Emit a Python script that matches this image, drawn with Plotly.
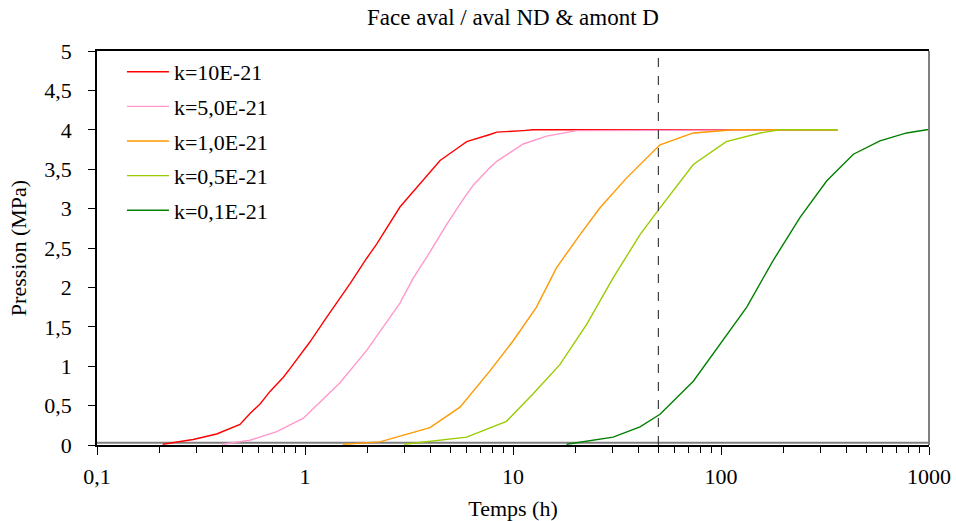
import plotly.graph_objects as go

# ---- data (time in h, pressure in MPa) ----
k10_t = [0.207, 0.29, 0.376, 0.487, 0.544, 0.608, 0.679, 0.787, 0.847, 0.982, 1.057, 1.27, 1.473, 1.65,
         1.98, 2.21, 2.86, 2.97, 3.99, 4.46, 5.36, 5.99, 7.75, 8.35, 11.2, 12.5, 363]
k10_p = [0.01, 0.07, 0.14, 0.26, 0.40, 0.52, 0.68, 0.86, 0.97, 1.20, 1.31, 1.62, 1.86, 2.05,
         2.37, 2.55, 3.02, 3.07, 3.46, 3.61, 3.76, 3.85, 3.94, 3.97, 3.99, 4.0, 4.0]

k5_t = [0.40, 0.544, 0.731, 0.982, 1.473, 1.98, 2.86, 3.32, 3.99, 4.80, 5.77, 6.45, 7.75, 8.35, 11.2,
        14.5, 20.2, 363]
k5_p = [0.01, 0.06, 0.17, 0.34, 0.79, 1.20, 1.80, 2.12, 2.45, 2.80, 3.12, 3.30, 3.52, 3.60, 3.82,
        3.92, 3.99, 4.0]

k1_t = [1.52, 2.29, 3.99, 5.56, 7.75, 10.0, 12.97, 16.2, 21.0, 26.2, 35.2, 50.9, 73.6, 98.9, 115, 363]
k1_p = [0.01, 0.04, 0.22, 0.48, 0.94, 1.32, 1.75, 2.25, 2.67, 3.01, 3.39, 3.81, 3.96, 3.99, 4.0, 4.0]

k05_t = [3.0, 5.99, 9.3, 12.5, 16.8, 22.6, 30.3, 40.8, 50.9, 73.6, 106, 154, 192, 363]
k05_p = [0.01, 0.10, 0.30, 0.65, 1.02, 1.53, 2.12, 2.67, 3.01, 3.56, 3.85, 3.96, 4.0, 4.0]

k01_t = [18.1, 30.3, 40.8, 50.9, 73.6, 98.9, 133, 178, 240, 322, 433, 581, 781, 975, 1000]
k01_p = [0.01, 0.10, 0.23, 0.39, 0.81, 1.28, 1.75, 2.34, 2.89, 3.35, 3.69, 3.86, 3.96, 4.0, 4.0]

series_names = ["k=10E-21", "k=5,0E-21", "k=1,0E-21", "k=0,5E-21", "k=0,1E-21"]
series_colors = ["#FF0000", "#FF99CC", "#FF9900", "#99CC00", "#008000"]

baseline_t = [0.1, 1000]
baseline_p = [0.03, 0.03]
marker_t = [50, 50]
marker_p = [0, 5]

x_tickvals = [0.1, 1, 10, 100, 1000]
x_ticktext = ["0,1", "1", "10", "100", "1000"]
x_minorvals = [m * d for d in (0.1, 1, 10, 100) for m in range(2, 10)]
y_tickvals = [0, 0.5, 1, 1.5, 2, 2.5, 3, 3.5, 4, 4.5, 5]
y_ticktext = ["0", "0,5", "1", "1,5", "2", "2,5", "3", "3,5", "4", "4,5", "5"]

FONT = "Liberation Serif"

fig = go.Figure()

fig.add_trace(go.Scatter(x=baseline_t, y=baseline_p, mode="lines",
                         line=dict(color="#808080", width=2), showlegend=False,
                         hoverinfo="skip"))

for t, p, n, c in zip([k10_t, k5_t, k1_t, k05_t, k01_t],
                      [k10_p, k5_p, k1_p, k05_p, k01_p],
                      series_names, series_colors):
    fig.add_trace(go.Scatter(x=t, y=p, mode="lines", name=n, legendgroup=n,
                             line=dict(color=c, width=1.4)))

fig.add_trace(go.Scatter(x=marker_t, y=marker_p, mode="lines",
                         line=dict(color="#404040", width=1.2, dash="dash"),
                         showlegend=False, hoverinfo="skip"))

fig.update_layout(
    width=956, height=521,
    margin=dict(l=97, r=27, t=51, b=76),
    paper_bgcolor="white", plot_bgcolor="white",
    font=dict(family=FONT, size=22, color="black"),
    title=dict(text="Face aval / aval ND & amont D", xref="paper", x=0.5, xanchor="center",
               y=0.967, yanchor="middle", font=dict(family=FONT, size=23)),
    showlegend=True,
    legend=dict(x=0.030, y=1.0, xanchor="left", yanchor="top",
                bgcolor="rgba(0,0,0,0)", font=dict(family=FONT, size=22),
                tracegroupgap=3, traceorder="grouped", itemwidth=42),
    xaxis=dict(type="log", range=[-1, 3], tickvals=x_tickvals, ticktext=x_ticktext,
               showgrid=False, zeroline=False, showline=True, linecolor="black",
               linewidth=1.5, mirror=True, ticks="outside", ticklen=8,
               tickcolor="black", tickwidth=1.2, ticklabelstandoff=3, automargin=False,
               tickfont=dict(family=FONT, size=22),
               minor=dict(tickmode="array", tickvals=x_minorvals, ticks="outside",
                          ticklen=6, tickcolor="black", tickwidth=1, showgrid=False),
               title=dict(text="Temps (h)", standoff=17, font=dict(family=FONT, size=22))),
    yaxis=dict(range=[0, 5], tickvals=y_tickvals, ticktext=y_ticktext,
               showgrid=False, zeroline=False, showline=True, linecolor="black",
               linewidth=1.5, ticks="outside", ticklen=7, tickcolor="black",
               tickwidth=1.2, ticklabelstandoff=12, automargin=False,
               tickfont=dict(family=FONT, size=22),
               title=dict(text="Pression (MPa)", standoff=12, font=dict(family=FONT, size=22))),
)

# right border of the plot area (gray)
fig.add_shape(type="line", xref="paper", yref="paper", x0=1, x1=1, y0=0, y1=1,
              line=dict(color="#808080", width=2))

# remove the default 8px page margin so the 956x521 figure fills the window exactly
fig.write_html("out.html", config={"displayModeBar": False},
               post_script="document.body.style.margin='0px';")
